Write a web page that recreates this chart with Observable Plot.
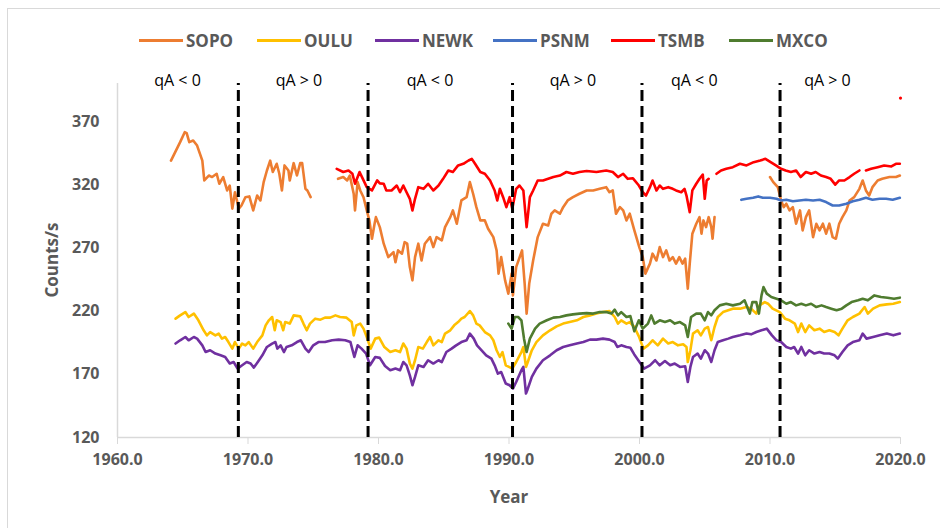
<!DOCTYPE html>
<html><head><meta charset="utf-8">
<script src="https://cdn.jsdelivr.net/npm/d3@7"></script>
<script src="https://cdn.jsdelivr.net/npm/@observablehq/plot@0.6"></script>
<style>
html,body{margin:0;padding:0;background:#fff;overflow:hidden;}
#wrap{position:relative;width:940px;height:528px;overflow:hidden;font-family:"Open Sans",sans-serif;}
#frame{position:absolute;left:7px;top:8px;width:1000px;height:600px;border:1.5px solid #d9d9d9;box-sizing:border-box;}
#chart{position:absolute;left:0;top:0;}
#legend{position:absolute;left:139px;top:29px;display:flex;}
.leg{width:118px;height:22px;display:flex;align-items:center;font-weight:bold;font-size:17px;color:#595959;}
.sw{width:44px;height:3px;margin-right:3px;}
.ttl{position:absolute;font-weight:bold;color:#595959;font-size:17px;white-space:nowrap;}
</style></head>
<body><div id="wrap"><div id="frame"></div><div id="chart"></div>
<div class="ttl" style="left:51px;top:260px;transform:translate(-50%,-50%) rotate(-90deg);">Counts/s</div>
<div class="ttl" style="left:509px;top:496px;transform:translate(-50%,-50%);">Year</div>
<div id="legend"></div></div>
<script>
// ---------- data ----------
const seriesNames  = ["SOPO","OULU","NEWK","PSNM","TSMB","MXCO"];
const seriesColors = ["#ED7D31","#FFC000","#7030A0","#4472C4","#FF0000","#4F7C2F"];
const xTicks = [1960,1970,1980,1990,2000,2010,2020];
const yTicks = [120,170,220,270,320,370];
const reversalYears = [1969.26,1979.2,1990.27,2000.19,2010.77];
const phaseText  = ["qA < 0","qA > 0","qA < 0","qA > 0","qA < 0","qA > 0"];
const phaseYears = [1964.6,1973.9,1983.95,1994.9,2004.2,2014.4];
const phaseLevel = 402.3;

const sopoYears = [1964.1,1964.8,1965.15,1965.3,1965.5,1965.8,1966.1,1966.5,1966.65,1967.0,1967.25,1967.6,1967.8,1968.1,1968.4,1968.6,1968.8,1969.0,1969.3,1969.5,1969.8,1970.1,1970.4,1970.7,1970.95,1971.2,1971.45,1971.7,1971.9,1972.2,1972.4,1972.6,1972.8,1973.1,1973.2,1973.5,1973.75,1974.0,1974.15,1974.4,1974.55,1974.8,
 1975.5,
 1976.9,1977.3,1977.6,1977.8,1978.1,1978.2,1978.4,1978.6,1978.85,1979.1,1979.3,1979.5,1979.7,1979.8,1980.1,1980.4,1980.75,1981.15,1981.3,1981.5,1981.8,1982.0,1982.2,1982.4,1982.6,1982.8,1983.05,1983.3,1983.55,1983.95,1984.2,1984.45,1984.85,1985.1,1985.5,1985.7,1986.0,1986.35,1986.75,1987.0,1987.25,1987.5,1987.8,1988.15,1988.4,1988.8,1989.05,1989.2,1989.4,1989.7,1989.95,1990.2,1990.3,1990.55,1991.0,1991.2,1991.35,1991.55,1991.85,1992.2,1992.6,1993.0,1993.25,1993.5,1993.9,1994.15,1994.5,1994.9,1995.4,1995.95,1996.45,1996.95,1997.45,1997.7,1997.95,1998.2,1998.5,1998.75,1999.0,1999.25,1999.6,2000.0,2000.25,2000.45,2000.8,2001.0,2001.3,2001.55,2001.8,2002.05,2002.3,2002.55,2002.8,2003.05,2003.3,2003.5,2003.7,2003.85,2004.05,2004.35,2004.6,2004.75,2004.9,2005.1,2005.3,2005.5,2005.6,2005.75,
 2007.5,
 2010.0,2010.25,2010.6,2010.85,2011.05,2011.25,2011.5,2011.75,2012.0,2012.3,2012.5,2012.75,2013.0,2013.3,2013.55,2013.8,2014.05,2014.3,2014.55,2014.8,2015.05,2015.3,2015.55,2015.85,2016.1,2016.45,2016.85,2017.1,2017.35,2017.6,2017.85,2018.25,2018.6,2019.15,2019.65,2019.95];
const sopoValues = [339,353.6,361.5,360.7,353.6,354.9,350.9,339,323.3,327.2,326,328.6,320.7,326,315.4,319.3,301,314,301,303.5,310,310.7,299.6,311.4,307.5,322,331.2,339,330,336.5,328.6,315.4,335.2,331.2,323.3,337,327.2,337,337,316.8,315.4,310.1,
 NaN,
 324.6,326,323.3,327.2,312.8,299.6,322,315.4,310,299.6,291.7,277.2,289.1,294.3,286.4,273.3,262.7,266.6,258.7,268,265.4,274.5,273.3,254.8,244.3,262.7,273.3,260,273.3,278.5,270.6,278.5,275.9,286.4,294.3,299.6,289.1,307.5,310.1,322,312.8,302.2,291.7,291.7,285.1,278.5,268,249.6,262.7,244.3,233.8,249.6,232.4,254.8,268,241.7,218,241.7,260,278.5,289.1,287.7,297,299.6,297,302.2,307.5,310.1,312.8,315.4,315.4,316.7,318,314,315.4,297,302.2,299.6,291.7,297,284,270,262.7,249.6,257.5,265.4,260,270.6,262.7,268,260,262.7,257.5,262.7,257.5,261.4,237.7,257.5,281.2,289.1,294.3,281.2,291.7,286.4,294.3,286.4,277.2,294.3,
 NaN,
 326,322,318,307.5,302.2,304.9,299.6,302.2,289.1,299.6,283.8,294.3,299.6,278.5,289.1,283.8,289.1,281.2,289.1,278.5,277.2,289.1,294.3,299.6,307.5,310.1,316.7,323.3,315.4,311.4,318,323.3,324.6,326,326,327.2];

const ouluYears = [1964.45,1964.8,1965.2,1965.45,1965.85,1966.2,1966.6,1966.85,1967.1,1967.5,1967.75,1968.0,1968.25,1968.5,1968.8,1969.0,1969.3,1969.55,1969.8,1970.05,1970.4,1970.7,1971.1,1971.35,1971.6,1971.85,1972.05,1972.2,1972.5,1972.7,1972.85,1973.2,1973.5,1974.0,1974.25,1974.5,1974.75,1975.15,1975.55,1975.9,1976.3,1976.7,1977.05,1977.55,1977.95,1978.1,1978.3,1978.6,1978.85,1979.1,1979.4,1979.75,1980.05,1980.45,1980.9,1981.3,1981.65,1981.9,1982.15,1982.4,1982.6,1982.8,1983.05,1983.4,1983.7,1983.95,1984.2,1984.6,1984.85,1985.1,1985.5,1985.8,1986.1,1986.35,1986.6,1987.0,1987.25,1987.5,1987.75,1988.15,1988.55,1988.8,1989.05,1989.3,1989.5,1989.75,1990.0,1990.25,1990.55,1990.95,1991.1,1991.3,1991.4,1991.75,1992.1,1992.6,1993.15,1993.65,1994.15,1994.65,1995.2,1995.7,1996.2,1996.7,1997.2,1997.7,1998.1,1998.35,1998.6,1999.0,1999.25,1999.6,1999.95,2000.3,2000.65,2001.0,2001.4,2001.8,2002.2,2002.55,2002.95,2003.35,2003.6,2003.7,2003.9,2004.1,2004.45,2004.7,2005.0,2005.25,2005.5,2005.75,2006.0,2006.4,2006.8,2007.15,2007.7,2008.2,2008.55,2008.95,2009.2,2009.6,2009.85,2010.2,2010.75,2011.15,2011.5,2011.9,2012.15,2012.4,2012.7,2013.0,2013.4,2013.8,2014.15,2014.55,2014.95,2015.25,2015.55,2015.95,2016.35,2016.85,2017.25,2017.5,2017.9,2018.4,2018.95,2019.45,2019.95];
const ouluValues = [214,216.6,219.2,215.3,218,212.7,204.8,200.8,203.4,200.8,202.2,198.2,199.5,195.5,190.3,195.5,190.3,194.3,192.9,195.5,190.3,195.5,200.8,208.7,212.7,215.3,204.8,212.7,211.3,204.8,211.3,210.1,216.6,215.8,210.1,204.8,210.1,214,213.2,214.8,214.8,216.6,215.3,214.8,211.3,200.8,208.7,210.1,206.1,199.5,190.3,198.2,199,191.5,187.6,189,187.6,194.3,190.3,178.5,174.5,181.1,191.6,190.3,195.5,199.5,192.9,196.9,195.5,202.2,204.8,208.7,211.3,214,215.3,220,216.6,210.1,208.7,203.4,200.8,196.9,189,183.7,187.6,177.1,175.8,174.5,179.7,187.6,191.6,175.8,178.5,189,195.5,200.8,204.8,207.9,210.1,211.3,212.7,215.3,216.6,218,219.2,220,215.3,210.1,212.7,210.1,211.3,207.4,200,190.3,192.9,196.9,192.9,198.2,194.3,195.5,192.9,193.7,191.6,179.7,189,202.2,204.8,200.8,206.1,207.4,196.9,207.4,215.3,219.2,220.6,221.9,221.9,223.2,221.9,218,224.5,227.1,225.8,221.9,219.2,214,212.7,210.1,203.4,210.1,203.4,208.7,204.8,206.1,203.4,204.8,203.4,200.8,206.1,212.7,215.3,218,223.2,218,221.9,224.5,225.3,225.8,227.1];

const newkYears = [1964.45,1964.8,1965.2,1965.45,1965.85,1966.1,1966.5,1966.75,1967.1,1967.5,1967.9,1968.25,1968.6,1968.9,1969.2,1969.55,1969.9,1970.2,1970.45,1970.75,1971.1,1971.45,1971.85,1972.1,1972.25,1972.5,1972.75,1972.95,1973.35,1973.75,1974.05,1974.4,1974.65,1975.0,1975.4,1975.9,1976.45,1976.95,1977.45,1977.85,1978.15,1978.4,1978.7,1979.05,1979.35,1979.75,1980.1,1980.5,1980.9,1981.3,1981.65,1981.9,1982.15,1982.4,1982.6,1982.8,1983.05,1983.45,1983.8,1984.2,1984.6,1984.85,1985.2,1985.6,1985.95,1986.35,1986.75,1987.0,1987.3,1987.55,1987.9,1988.25,1988.65,1988.9,1989.15,1989.4,1989.75,1990.05,1990.3,1990.55,1990.95,1991.1,1991.3,1991.4,1991.75,1992.1,1992.6,1993.15,1993.65,1994.15,1994.65,1995.2,1995.7,1996.2,1996.7,1997.2,1997.7,1998.1,1998.3,1998.6,1999.0,1999.3,1999.6,2000.0,2000.35,2000.8,2001.2,2001.55,2001.95,2002.35,2002.7,2003.1,2003.5,2003.7,2003.9,2004.1,2004.45,2004.7,2005.0,2005.25,2005.5,2005.75,2006.0,2006.4,2006.8,2007.15,2007.7,2008.2,2008.55,2008.95,2009.35,2009.75,2010.15,2010.5,2010.85,2011.25,2011.6,2011.85,2012.15,2012.4,2012.7,2013.0,2013.4,2013.8,2014.15,2014.55,2014.95,2015.2,2015.55,2015.95,2016.35,2016.85,2017.1,2017.4,2017.9,2018.4,2018.95,2019.45,2019.95];
const newkValues = [194.3,196.9,199.5,196.9,199.5,198.2,192.9,187.6,189,186.4,185,183.7,178.5,179.7,174.5,177.1,179.7,178.5,175.3,179.7,185,191.6,194.3,195.5,190.3,192.9,187.6,191.6,192.9,195.5,196.9,190.3,187.6,192.9,195.5,195.5,196.9,197.4,196.9,195.5,183.7,192.9,190.3,186.4,177.1,183.7,183,176.5,173.2,174.5,173.2,179.7,177.1,169.2,161.3,167.9,177.1,175.8,181.1,178.5,181.1,179.7,187.6,190.3,192.9,195.5,196.9,202.2,198.2,192.9,189,185,182.4,177.1,170.5,171.8,162.7,161.3,158.7,163.9,173.2,175.8,154.8,157.4,167.9,174.5,181.1,185,189,191.6,192.9,194.3,195.5,197.4,197.4,198.2,197.4,195.5,191.6,192.9,191.6,191,185.7,179.8,174.5,177.1,181.1,177.1,180.5,177.1,178.5,175.8,176.3,163.9,175.8,183.7,186.4,182.4,189,186.4,179.7,189,195.5,196.9,198.2,199.5,200.8,202.2,201.6,203.4,204.8,206.1,200.8,196.9,195.5,191.6,190.3,191.6,186.4,191.6,185,189,186.4,187.6,186.4,186.4,185,182.4,187.6,192.9,195.5,196.9,202.2,198.2,199.5,200.8,202.2,200.8,202.2];

const psnmYears = [2007.8,2008.2,2008.7,2009.1,2009.45,2010.0,2010.5,2010.85,2011.25,2011.75,2012.25,2012.75,2013.3,2013.8,2014.3,2014.8,2015.3,2015.85,2016.35,2016.85,2017.35,2017.85,2018.4,2018.9,2019.4,2019.95];
const psnmValues = [308,308.8,309.6,310.7,309.6,309.6,308.8,307.5,308,306.9,307.5,308,307.5,308,306.2,303.5,303.5,304.9,306.9,308,309.6,308,308.8,308.8,308,309.6];

const tsmbYears = [1976.8,1977.3,1977.7,1978.0,1978.2,1978.55,1978.8,1979.1,1979.5,1979.9,1980.1,1980.4,1980.6,1981.0,1981.4,1981.65,1981.9,1982.15,1982.4,1982.6,1982.8,1983.05,1983.45,1983.8,1984.2,1984.6,1984.95,1985.35,1985.7,1986.1,1986.5,1986.9,1987.15,1987.4,1987.8,1988.15,1988.55,1988.9,1989.1,1989.3,1989.55,1989.8,1990.05,1990.25,1990.55,1990.8,1991.1,1991.35,1991.6,1991.85,1992.2,1992.6,1993.0,1993.4,1993.9,1994.4,1994.9,1995.4,1995.95,1996.7,1997.45,1997.95,1998.35,1998.75,1999.1,1999.5,1999.95,2000.25,2000.5,2000.8,2001.0,2001.3,2001.55,2001.8,2002.2,2002.55,2002.8,2003.2,2003.45,2003.6,2003.85,2004.05,2004.35,2004.6,2004.85,2005.0,2005.15,2005.3,
 2005.6,
 2005.9,2006.25,2006.65,2007.15,2007.7,2008.2,2008.75,2009.25,2009.65,2010.05,2010.45,2010.85,2011.2,2011.6,2012.0,2012.35,2012.75,2013.15,2013.5,2013.9,2014.3,2014.65,2015.0,2015.3,2015.7,2016.1,2016.45,2016.85,
 2017.05,
 2017.35,2017.75,2018.25,2018.75,2019.3,2019.65,2019.95];
const tsmbValues = [332.5,330,331.2,328.6,320.7,330,324.6,318,315.4,323.3,321,320.7,315.4,315.4,319.3,314,319.3,314,308.8,299.6,308.8,318,316.7,320.7,315.4,319.3,324.6,331.2,330,335.2,336.5,339.1,340.4,336.5,330,328.6,323.3,315.4,307.5,316.7,310.1,302.2,310.1,301,316.7,319.3,315.4,286.4,310.1,315.4,323.3,323.3,324.6,326,327.2,330,328.6,330,330.8,330,331.2,330,326,328.6,324.6,325,319.3,314,311.4,318,323.3,315.4,319.3,316.7,318,316.7,315.4,314,316.7,311.4,298.2,315.4,320.7,324.6,328,308.8,323.3,324.6,
 NaN,
 328.6,331.2,332.5,333.8,336.5,335.2,337.8,339.1,340.4,337.8,335.2,332.5,331.2,330,331.2,326,330,328.6,330,327.2,326,324.6,320,323.3,323.3,326,328.6,331.2,
 NaN,
 331.2,332.5,333.8,335.2,334.4,336.5,336.5];
const tsmbSpikeYears  = [2020.0];
const tsmbSpikeValues = [388.5];

const mxcoYears = [1989.95,1990.2,1990.45,1990.7,1990.95,1991.15,1991.35,1991.6,1992.0,1992.35,1992.9,1993.4,1993.9,1994.4,1994.9,1995.4,1995.95,1996.45,1996.95,1997.45,1997.85,1998.1,1998.35,1998.6,1999.0,1999.3,1999.6,1999.95,2000.25,2000.65,2000.9,2001.15,2001.55,2001.95,2002.35,2002.7,2003.1,2003.5,2003.7,2003.95,2004.35,2004.7,2005.0,2005.25,2005.5,2005.75,2006.15,2006.65,2007.15,2007.7,2008.05,2008.45,2008.65,2008.95,2009.15,2009.35,2009.5,2009.75,2010.1,2010.5,2010.85,2011.25,2011.6,2012.0,2012.4,2012.75,2013.15,2013.55,2013.95,2014.3,2014.7,2015.1,2015.5,2015.85,2016.25,2016.75,2017.1,2017.5,2018.0,2018.5,2019.0,2019.5,2019.95];
const mxcoValues = [210.1,206.1,215.3,215.3,212.7,198.2,187.6,198.2,206.1,210.1,212.7,214.8,215.3,216.6,217.4,218,218.4,218,219.2,219.2,218,221.1,216.6,219.2,215.3,216,204,212.7,206.1,210.1,216.6,210.1,212.7,211.3,212.7,210.1,211.3,208.7,199.5,215.3,218,218,212.7,219.2,216.6,220.6,224.5,225.8,224.5,225.8,228.5,218,227.1,227.1,218,232.4,239,233.8,231.1,229.8,228.5,225.8,227.1,224.5,225.8,224.5,225.8,223.2,224.5,223.2,221.9,220.6,221.9,224.5,227.1,228.5,229.8,228.5,232.4,231.1,230.6,229.8,230.6];

// ---------- build tables ----------
const rows = [];
function addSeries(name, years, values) {
  years.forEach((yr, i) => rows.push({series: name, year: yr, value: values[i]}));
}
addSeries("SOPO", sopoYears, sopoValues);
addSeries("OULU", ouluYears, ouluValues);
addSeries("NEWK", newkYears, newkValues);
addSeries("PSNM", psnmYears, psnmValues);
addSeries("TSMB", tsmbYears, tsmbValues);
addSeries("MXCO", mxcoYears, mxcoValues);
const drawOrder = ["SOPO","OULU","NEWK","TSMB","PSNM","MXCO"];
rows.sort((a, b) => drawOrder.indexOf(a.series) - drawOrder.indexOf(b.series));
const spikes = tsmbSpikeYears.map((yr, i) => ({series: "TSMB", year: yr, value: tsmbSpikeValues[i]}));
const phases = phaseText.map((t, i) => ({text: t, year: phaseYears[i], value: phaseLevel}));

// ---------- legend ----------
const legend = document.getElementById("legend");
seriesNames.forEach((n, i) => {
  const item = document.createElement("div");
  item.className = "leg";
  item.innerHTML = `<span class="sw" style="background:${seriesColors[i]}"></span><span>${n}</span>`;
  legend.appendChild(item);
});

// ---------- chart ----------
const chart = Plot.plot({
  width: 940, height: 528,
  marginLeft: 117, marginRight: 40, marginTop: 83, marginBottom: 91,
  x: {domain: [1960, 2020]},
  y: {domain: [120, 400]},
  color: {domain: seriesNames, range: seriesColors},
  style: {fontFamily: "Open Sans, sans-serif", background: "transparent", overflow: "visible"},
  marks: [
    Plot.ruleX([1960], {stroke: "#d9d9d9", strokeWidth: 1.5}),
    Plot.ruleY([120], {stroke: "#d9d9d9", strokeWidth: 1.5}),
    Plot.axisY({ticks: yTicks, tickSize: 0, tickPadding: 18, fill: "#595959", fontSize: 16, fontWeight: "bold", label: null}),
    Plot.axisX({ticks: xTicks, tickSize: 7, tickPadding: 9, stroke: "#d9d9d9", fill: "#595959", fontSize: 16, fontWeight: "bold", tickFormat: d => d.toFixed(1), label: null}),
    Plot.line(rows, {x: "year", y: "value", z: "series", stroke: "series", strokeWidth: 2.6, strokeLinejoin: "round"}),
    Plot.dot(spikes, {x: "year", y: "value", r: 1.6, fill: "series", stroke: null}),
    Plot.ruleX(reversalYears, {y1: 120, y2: 400, stroke: "black", strokeWidth: 3, strokeDasharray: "11,5"}),
    Plot.text(phases, {x: "year", y: "value", text: "text", fontSize: 16, fill: "black"})
  ]
});
document.getElementById("chart").appendChild(chart);
</script>
</body></html>
